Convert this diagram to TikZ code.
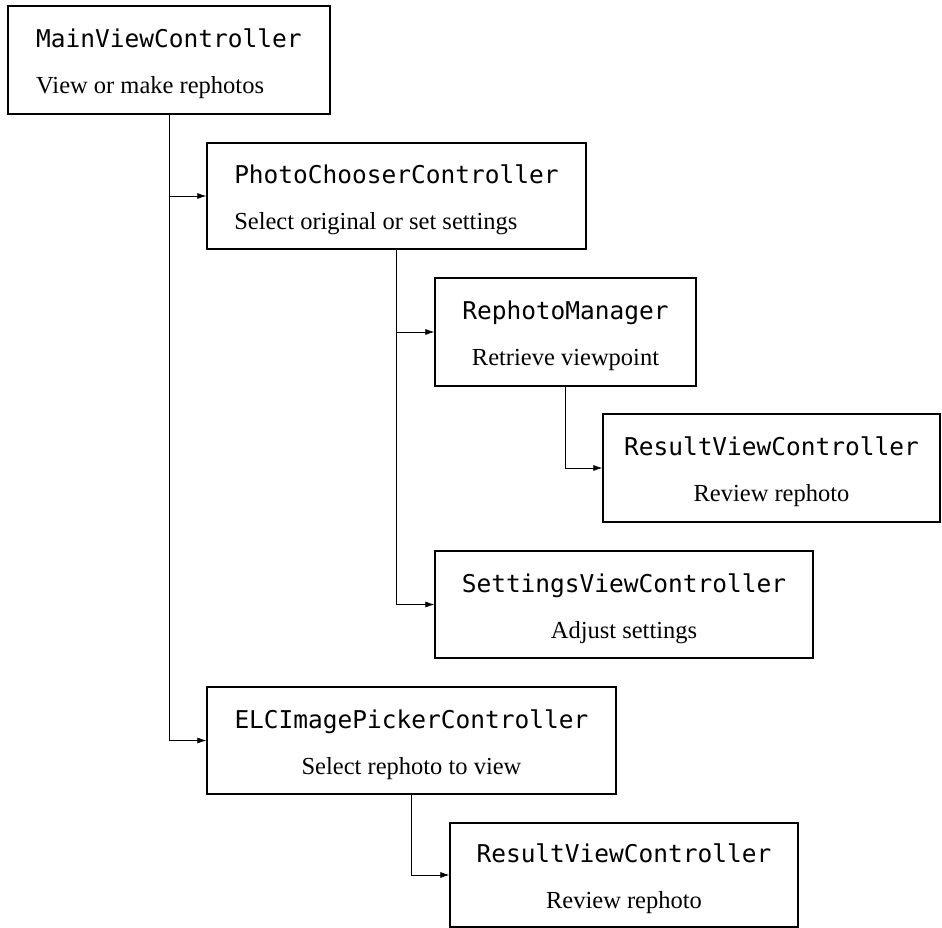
\documentclass[tikz,border=0pt]{standalone}
\usepackage{fontspec}
\setmainfont{Liberation Serif}
\setmonofont{DejaVu Sans Mono}
\usetikzlibrary{arrows.meta}

\newcommand\ctrlname[1]{\rule{0pt}{27pt}\texttt{#1}}

\begin{document}
\begin{tikzpicture}[x=1pt,y=1pt,
    ctrl/.style={draw, line width=1.3pt, inner sep=0pt, align=center,
        font=\fontsize{24.5}{46}\selectfont},
    link/.style={line width=0.7pt, -{Latex[length=9pt,width=6pt]}}]

    \useasboundingbox (0,0) rectangle (942,-928);

    % hlavni obrazovka
    \node[ctrl, align=left, minimum width=322pt, minimum height=108pt] (main) at (169,-60)
        {\ctrlname{MainViewController}\\View or make rephotos};

    % vyber fotky
    \node[ctrl, align=left, minimum width=379pt, minimum height=106pt] (chooser) at (396.5,-196)
        {\ctrlname{PhotoChooserController}\\Select original or set settings};
    \node[ctrl, minimum width=261pt, minimum height=108pt] (manager) at (565.5,-332)
        {\ctrlname{RephotoManager}\\Retrieve viewpoint};
    \node[ctrl, minimum width=337pt, minimum height=108pt] (result) at (771.5,-468)
        {\ctrlname{ResultViewController}\\Review rephoto};
    \node[ctrl, minimum width=378pt, minimum height=107pt] (settings) at (624,-604.5)
        {\ctrlname{SettingsViewController}\\Adjust settings};

    % prohlizeni
    \node[ctrl, minimum width=409pt, minimum height=107pt] (picker) at (411.5,-740.5)
        {\ctrlname{ELCImagePickerController}\\Select rephoto to view};
    \node[ctrl, minimum width=348pt, minimum height=104pt] (review) at (624,-875)
        {\ctrlname{ResultViewController}\\Review rephoto};

    % spojnice
    \draw[link] (main.south) |- (chooser.west);
    \draw[link] (main.south) |- (picker.west);
    \draw[link] (chooser.south) |- (manager.west);
    \draw[link] (chooser.south) |- (settings.west);
    \draw[link] (manager.south) |- (result.west);
    \draw[link] (picker.south) |- (review.west);

\end{tikzpicture}
\end{document}
